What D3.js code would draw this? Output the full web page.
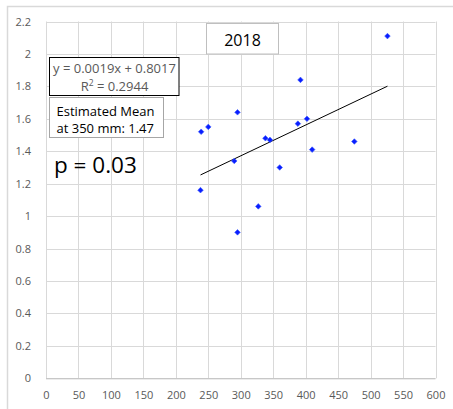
<!DOCTYPE html>
<html>
<head>
<meta charset="utf-8">
<script src="https://cdn.jsdelivr.net/npm/d3@7"></script>
<style>
  html, body { margin: 0; padding: 0; background: #fff; }
  svg { display: block; }
</style>
</head>
<body>
<svg id="chart" width="453" height="409"></svg>
<script>
// Rainfall (mm) against yield, 2018 season
const rainfall = [526, 392, 295, 250, 239, 388, 402, 338, 345, 475, 410, 290, 360, 238, 327, 295];
const yieldVals = [2.11, 1.84, 1.64, 1.55, 1.52, 1.57, 1.60, 1.48, 1.47, 1.46, 1.41, 1.34, 1.30, 1.16, 1.06, 0.90];
const xTicks = [0, 50, 100, 150, 200, 250, 300, 350, 400, 450, 500, 550, 600];
const yTicks = [0, 0.2, 0.4, 0.6, 0.8, 1, 1.2, 1.4, 1.6, 1.8, 2, 2.2];
const slope = 0.0019, intercept = 0.8017, rSquared = 0.2944;
const yearLabel = "2018";
const pLabel = "p = 0.03";
const meanLabel = ["Estimated Mean", "at 350 mm: 1.47"];

const svg = d3.select("#chart");
const font = "'Open Sans', 'Noto Sans', sans-serif";

// outer chart frame (extends past the right and bottom edges)
svg.append("rect")
  .attr("x", 7.5).attr("y", 6.5).attr("width", 470).attr("height", 430)
  .attr("fill", "none").attr("stroke", "#d9d9d9").attr("stroke-width", 1.5);

const x = d3.scaleLinear().domain([0, 600]).range([46, 435.5]);
const y = d3.scaleLinear().domain([0, 2.2]).range([378.3, 21.5]);

// gridlines
const grid = svg.append("g").attr("stroke", "#d9d9d9").attr("stroke-width", 1);
grid.selectAll("line.v").data(xTicks).join("line")
  .attr("x1", d => Math.round(x(d)) + 0.5).attr("x2", d => Math.round(x(d)) + 0.5)
  .attr("y1", y(2.2)).attr("y2", y(0));
grid.selectAll("line.h").data(yTicks).join("line")
  .attr("y1", d => Math.round(y(d)) + 0.5).attr("y2", d => Math.round(y(d)) + 0.5)
  .attr("x1", x(0)).attr("x2", x(600));

// axes (labels only, no domain lines)
const xAxis = svg.append("g")
  .attr("transform", `translate(0,${y(0)})`)
  .call(d3.axisBottom(x).tickValues(xTicks).tickSize(0).tickPadding(13).tickFormat(d3.format("")));
const yAxis = svg.append("g")
  .attr("transform", `translate(${x(0)},0)`)
  .call(d3.axisLeft(y).tickValues(yTicks).tickSize(0).tickPadding(15).tickFormat(d => d3.format("")(+d.toFixed(1))));
[xAxis, yAxis].forEach(a => {
  a.select(".domain").remove();
  a.selectAll("text").attr("fill", "#595959").style("font-family", font).style("font-size", "11px");
});
xAxis.append("line").attr("x1", x(0)).attr("x2", x(600)).attr("y1", 0.5).attr("y2", 0.5)
  .attr("stroke", "#bfbfbf");

// linear trendline over the range of the data
const [xmin, xmax] = d3.extent(rainfall);
svg.append("line")
  .attr("x1", x(xmin)).attr("y1", y(slope * xmin + intercept))
  .attr("x2", x(xmax)).attr("y2", y(slope * xmax + intercept))
  .attr("stroke", "#000").attr("stroke-width", 1);

// data points: small blue diamonds
const diamond = "M0,-2.8L2.8,0L0,2.8L-2.8,0Z";
svg.append("g").selectAll("path").data(rainfall).join("path")
  .attr("transform", (d, i) => `translate(${x(d)},${y(yieldVals[i])})`)
  .attr("d", diamond)
  .attr("fill", "#0a1eff").attr("stroke", "#4060ff").attr("stroke-width", 0.6);

// year box
svg.append("rect").attr("x", 206.5).attr("y", 23.5).attr("width", 72).attr("height", 30.5)
  .attr("fill", "#fff").attr("stroke", "#bfbfbf");
svg.append("text").attr("x", 242.5).attr("y", 45.5).attr("text-anchor", "middle")
  .style("font-family", font).style("font-size", "16px").attr("fill", "#000").text(yearLabel);

// trendline equation box
svg.append("rect").attr("x", 49.5).attr("y", 57.5).attr("width", 129.5).attr("height", 38)
  .attr("fill", "#fff").attr("stroke", "#000");
svg.append("text").attr("x", 114.5).attr("y", 73).attr("text-anchor", "middle")
  .style("font-family", font).style("font-size", "13px").attr("fill", "#595959")
  .text(`y = ${slope}x + ${intercept}`);
const r2 = svg.append("text").attr("x", 114.5).attr("y", 90.5).attr("text-anchor", "middle")
  .style("font-family", font).style("font-size", "13px").attr("fill", "#595959");
r2.append("tspan").text("R");
r2.append("tspan").attr("dy", -5).style("font-size", "8.5px").text("2");
r2.append("tspan").attr("dy", 5).text(` = ${rSquared}`);

// estimated mean box
svg.append("rect").attr("x", 49.5).attr("y", 97.5).attr("width", 114).attr("height", 40)
  .attr("fill", "#fff").attr("stroke", "#a6a6a6");
svg.append("g").selectAll("text").data(meanLabel).join("text")
  .attr("x", 56.5).attr("y", (d, i) => 116 + i * 17)
  .style("font-family", font).style("font-size", "13px").attr("fill", "#000")
  .text(d => d);

// p-value
svg.append("text").attr("x", 54).attr("y", 173)
  .style("font-family", font).style("font-size", "22.5px").attr("fill", "#000").text(pLabel);
</script>
</body>
</html>
